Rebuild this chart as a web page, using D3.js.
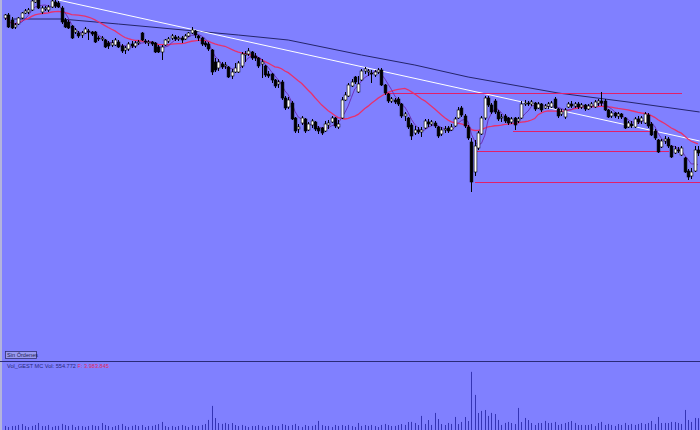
<!DOCTYPE html>
<html><head><meta charset="utf-8">
<script src="https://cdn.jsdelivr.net/npm/d3@7"></script>
<style>html,body{margin:0;padding:0;background:#8080ff;overflow:hidden}svg{display:block}</style>
</head><body>
<svg id="chart" width="700" height="430"></svg>
<script>
// ---- data (price units, one entry per session) ----
const opens = [
382,385,380,373,376,382,387,388,390,398, 400,388,391,390,393,398,397,392,380,378,
374,368,367,365,367,369,368,368,362,361, 360,357,355,355,358,354,350,351,356,354,
357,367,359,357,358,357,353,348,355,359, 362,363,361,362,361,364,367,369,364,362,
357,356,350,338,332,336,334,333,324,328, 328,334,345,346,348,344,342,336,334,326,
326,320,316,318,302,293,297,282,271,277, 281,270,275,278,272,272,269,275,278,282,
273,282,300,304,314,323,308,320,329,328, 327,325,328,330,315,306,299,300,301,296,
284,282,275,267,270,268,272,278,276,277, 273,266,270,272,270,274,282,292,284,273,
258,228,252,266,282,302,295,299,288,282, 284,282,278,282,279,282,296,297,296,297,
292,296,292,294,293,301,291,286,283,293, 296,294,296,293,295,291,294,293,297,299,
299,290,284,287,284,286,282,273,276,273, 281,279,277,285,276,269,260,253,259,261,
254,247,250,245,242,229,224,229,250];
const highs = [
386,387,383,377,383,388,391,392,400,400, 400,394,394,395,400,400,399,394,382,380,
375,372,369,369,373,371,369,369,364,364, 361,359,360,362,360,356,354,358,359,359,
360,368,361,360,359,358,355,355,361,363, 366,365,364,364,366,368,373,370,365,363,
359,358,351,342,341,338,338,334,331,337, 339,348,349,352,349,347,343,341,335,329,
327,321,320,320,304,303,299,283,276,284, 282,278,281,279,274,273,279,280,284,283,
280,303,308,317,321,324,324,331,333,331, 330,330,332,332,316,307,303,302,303,297,
288,283,277,274,273,273,281,281,280,279, 274,273,274,274,276,283,293,294,286,275,
262,260,269,284,304,304,297,301,290,286, 286,283,283,283,283,299,300,299,300,298,
298,297,296,298,299,303,292,291,292,298, 299,298,298,297,296,296,298,300,301,308,
301,291,289,288,288,287,283,279,279,283, 284,284,288,287,278,271,261,261,264,263,
255,254,253,254,243,231,232,254,254];
const lows = [
380,372,371,371,375,381,386,386,389,397, 391,386,389,388,392,392,392,376,372,371,
361,366,362,362,366,360,364,357,359,359, 352,351,353,354,352,347,346,349,352,352,
355,359,356,354,354,347,347,340,354,357, 360,359,359,357,360,363,366,362,359,354,
353,349,325,328,329,331,331,322,321,327, 327,332,338,344,340,339,332,322,323,322,
317,312,312,300,290,291,280,267,267,275, 267,269,272,269,266,265,268,271,277,272,
271,281,299,303,313,316,307,319,326,324, 317,323,326,314,305,297,297,296,294,282,
279,271,260,265,266,263,271,273,274,272, 262,264,267,267,269,273,281,283,272,260,
208,224,250,265,280,293,286,286,279,278, 277,275,276,270,277,281,294,294,294,289,
291,288,291,291,292,291,282,284,281,292, 292,292,291,291,289,290,292,292,294,294,
289,282,282,282,281,281,271,272,272,272, 276,276,276,272,264,260,247,252,256,252,
242,246,247,244,227,220,221,228,244];
const closes = [
385,373,372,375,382,387,389,390,399,400, 392,392,392,393,399,394,393,378,373,372,
362,370,364,367,371,368,366,358,361,362, 353,354,357,360,353,349,352,356,354,357,
358,360,358,358,356,348,348,353,360,361, 364,361,362,360,364,367,370,365,362,356,
355,351,328,330,338,333,335,323,328,332, 337,346,346,349,342,342,334,338,325,324,
320,314,318,302,292,300,281,269,273,282, 269,276,279,271,269,267,276,277,282,274,
276,300,305,315,318,318,316,329,331,329, 326,328,330,315,307,299,301,298,296,284,
286,273,264,270,268,270,279,276,278,274, 264,270,271,269,273,281,290,285,274,262,
218,254,267,282,302,295,288,288,281,283, 279,277,281,275,281,296,297,296,298,291,
296,290,294,296,297,292,284,288,290,296, 294,296,293,295,291,294,296,298,299,297,
290,283,287,284,286,283,272,277,274,281, 278,282,286,274,265,262,248,259,261,254,
243,251,249,252,228,223,228,250,247];
// volume in thousands
const volumes = [
190,142,186,193,238,280,184,139,191,233, 331,187,182,236,144,189,192,285,231,186,
240,138,190,185,145,188,232,190,184,327, 236,187,140,189,233,284,186,143,192,238,
185,234,139,188,191,237,279,378,186,141, 190,144,187,235,189,142,232,188,191,236,
283,472,1130,561,327,285,332,279,326,234, 186,237,190,142,188,185,231,192,139,187,
236,189,184,281,238,190,233,286,187,143, 235,188,191,237,425,232,186,189,141,236,
190,234,187,238,185,144,330,189,233,191, 237,186,140,236,284,232,187,190,235,281,
238,374,380,327,233,660,283,468,236,800, 515,280,234,331,284,612,279,377,609,421,
2726,1645,797,895,938,660,801,750,472,236, 330,378,328,281,1034,374,565,468,327,233,
331,326,425,329,332,377,236,283,328,375, 422,330,234,237,231,236,280,186,327,379,
233,285,237,189,281,235,330,232,284,236, 283,329,280,331,424,282,612,328,331,326,
378,374,329,283,940,470,377,566,555];
// long moving average : [session, value]
const longMA = [[2,381],[17,381],[34,376],[70,365],[85,360],[107,345],[123,335],[139,323],[166,307],[187,298],[208.5,288]];
// drawn trendline and horizontal levels : [from session, to session, value]
const trendLine = [[16,400],[208.5,259]];
const levels = [[114,203,307],[152.5,193.5,269],[141.5,199.5,249],[141,208.5,218]];
const legendMain = "Vol_GEST MC  Vol: 554.772";
const legendF = "F: 3.983.845";
const ordersLabel = "Sin Órdenes";

// ---- drawing ----
const svg = d3.select("#chart");
const W = 700, H = 430;
const n = closes.length;
const idx = d3.range(n);
const x = d3.scaleLinear().domain([0, n - 1]).range([5, 698]);
const y = d3.scaleLinear().domain([40, 400]).range([360, 0]);
const yv = d3.scaleLinear().domain([0, 3000]).range([430, 366]);

svg.append("rect").attr("width", W).attr("height", H).attr("fill", "#8080ff");
svg.append("rect").attr("x", 0).attr("y", 0).attr("width", 2).attr("height", H).attr("fill", "#b4b4dc");

function sma(arr, p) {
  return arr.map((_, i) => {
    const s = Math.max(0, i - p + 1);
    return d3.mean(arr.slice(s, i + 1));
  });
}
const ma20 = sma(closes, 20);
const ma5 = sma(closes, 5);

const line = d3.line().x(d => x(d[0])).y(d => y(d[1]));

// long MA
svg.append("path").datum(longMA).attr("d", line).attr("fill", "none")
  .attr("stroke", "#24246a").attr("stroke-width", 1);
// trendline
svg.append("path").datum(trendLine).attr("d", line).attr("fill", "none")
  .attr("stroke", "#ffffff").attr("stroke-width", 1);
// levels
svg.selectAll("rect.level").data(levels).join("rect").attr("class", "level")
  .attr("x", d => Math.round(x(d[0]))).attr("width", d => Math.round(x(d[1]) - x(d[0])))
  .attr("y", d => Math.round(y(d[2]))).attr("height", 1)
  .attr("fill", "#e0206a").attr("shape-rendering", "crispEdges");

// moving averages
svg.append("path").datum(idx.map(i => [i, ma20[i]])).attr("d", line).attr("fill", "none")
  .attr("stroke", "#e8306c").attr("stroke-width", 1.3);
svg.append("path").datum(idx.map(i => [i, ma5[i]])).attr("d", line).attr("fill", "none")
  .attr("stroke", "#6a28b0").attr("stroke-width", 0.9);

// candles
const g = svg.append("g");
g.selectAll("line.wick").data(idx).join("line").attr("class", "wick")
  .attr("x1", i => Math.round(x(i)) + 0.5).attr("x2", i => Math.round(x(i)) + 0.5)
  .attr("y1", i => y(highs[i])).attr("y2", i => y(lows[i]))
  .attr("stroke", "#000").attr("stroke-width", 1);
g.selectAll("rect.body").data(idx).join("rect").attr("class", "body")
  .attr("x", i => Math.round(x(i)) - 0.9)
  .attr("width", 2.8)
  .attr("y", i => y(Math.max(opens[i], closes[i])))
  .attr("height", i => Math.max(1, Math.abs(y(opens[i]) - y(closes[i]))))
  .attr("fill", i => closes[i] >= opens[i] ? "#ffffff" : "#000000")
  .attr("stroke", "#000").attr("stroke-width", 0.6);

// separator
svg.append("line").attr("x1", 0).attr("x2", W).attr("y1", 361.5).attr("y2", 361.5)
  .attr("stroke", "#2a2a78").attr("stroke-width", 1);

// orders label box
svg.append("rect").attr("x", 5.5).attr("y", 351.5).attr("width", 31).attr("height", 7)
  .attr("fill", "#9a9af0").attr("stroke", "#303070").attr("stroke-width", 0.8);
svg.append("text").attr("x", 7).attr("y", 357.2).text(ordersLabel)
  .attr("font-family", "Liberation Sans, Arial, sans-serif").attr("font-size", 5.6)
  .attr("fill", "#202050");

// volume legend
const t = svg.append("text").attr("x", 7).attr("y", 368)
  .attr("font-family", "Liberation Sans, Arial, sans-serif").attr("font-size", 5.6);
t.append("tspan").attr("fill", "#28287a").text(legendMain + "  ");
t.append("tspan").attr("fill", "#e02860").text(legendF);

// volume bars
svg.selectAll("line.vol").data(idx).join("line").attr("class", "vol")
  .attr("x1", i => Math.round(x(i)) + 0.5).attr("x2", i => Math.round(x(i)) + 0.5)
  .attr("y1", yv(0)).attr("y2", i => yv(volumes[i]))
  .attr("stroke", "#3434b4").attr("stroke-width", 1);
</script>
</body></html>
